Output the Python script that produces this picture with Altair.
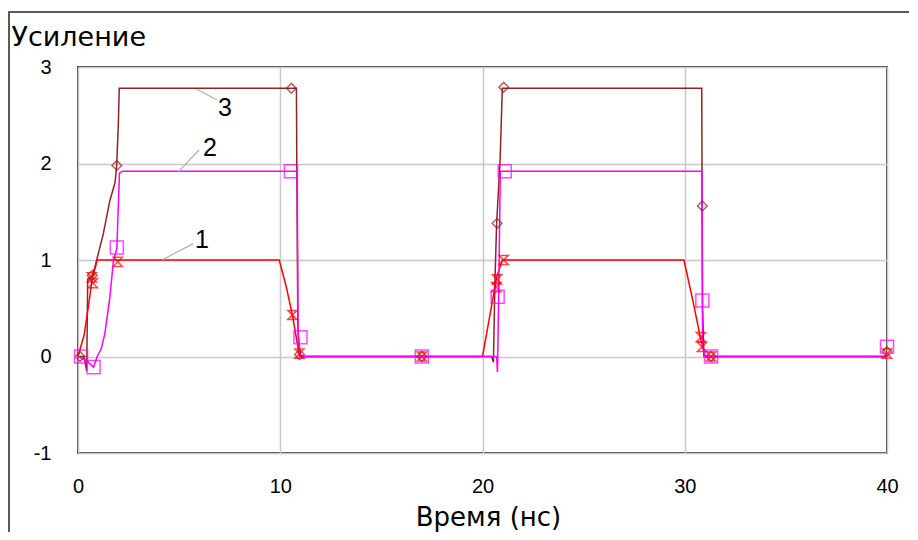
import altair as alt
import pandas as pd

# ---- curve data (time in ns, gain) ----
c1_t = [0, 0.3, 0.5, 0.7, 0.8, 0.95, 1.1, 9.95, 10.3, 10.6, 10.93, 11.1, 20.0, 20.3, 20.7, 20.98, 21.1, 29.96, 30.4, 30.8, 31.0, 31.3, 40]
c1_y = [0, 0.22, 0.5, 0.8, 0.88, 1.0, 1.0, 1.0, 0.72, 0.43, 0.03, 0.0, 0.0, 0.35, 0.82, 1.0, 1.0, 1.0, 0.58, 0.17, 0.0, 0.0, 0.0]

c2_t = [0, 0.4, 0.77, 0.95, 1.15, 1.33, 1.58, 1.75, 1.92, 2.05, 2.2, 10.84, 10.88, 11.0, 11.2, 20.7, 20.74, 20.8, 20.88, 21.1, 30.85, 30.88, 31.0, 40]
c2_y = [0, -0.04, -0.11, 0.0, 0.08, 0.24, 0.62, 0.99, 1.12, 1.9, 1.92, 1.92, 0.25, 0.0, 0.0, 0.0, -0.16, 0.62, 1.92, 1.92, 1.92, 0.1, 0.0, 0.0]

c3_t = [0, 0.3, 0.43, 0.48, 0.7, 0.84, 1.25, 1.58, 1.83, 1.91, 1.99, 2.04, 2.2, 10.8, 10.82, 10.87, 10.95, 11.2, 20.45, 20.54, 20.62, 20.7, 20.87, 20.98, 21.1, 30.84, 30.86, 30.88, 30.95, 31.3, 40]
c3_y = [0, 0.0, -0.15, 0.8, 0.84, 0.93, 1.27, 1.62, 1.8, 1.97, 2.38, 2.78, 2.78, 2.78, 1.92, 0.3, 0.0, 0.0, 0.0, -0.06, 0.82, 1.38, 2.03, 2.78, 2.78, 2.78, 1.56, 0.5, 0.0, 0.0, 0.0]

# ---- marker positions ----
m1_t = [0.68, 0.74, 1.97, 10.6, 10.95, 17.0, 20.68, 20.72, 21.05, 30.8, 30.85, 31.3, 40]
m1_y = [0.82, 0.76, 0.98, 0.43, 0.03, 0.0, 0.72, 0.8, 1.0, 0.2, 0.1, 0.0, 0.03]

m2_t = [0.15, 0.77, 1.92, 10.53, 11.0, 17.0, 20.75, 21.1, 30.87, 31.3, 40]
m2_y = [0.0, -0.11, 1.13, 1.92, 0.2, 0.0, 0.62, 1.92, 0.58, 0.0, 0.1]

m3_t = [0.1, 0.7, 1.92, 10.55, 10.95, 17.0, 20.72, 21.05, 30.87, 31.3, 40]
m3_y = [0.0, 0.84, 1.98, 2.78, 0.02, 0.0, 1.38, 2.79, 1.56, 0.0, 0.05]

# ---- curve labels with leader lines ----
lab_text = ["1", "2", "3"]
lab_t = [6.13, 6.53, 7.27]
lab_y = [1.21, 2.16, 2.58]
lead_t1 = [4.15, 4.95, 5.87]
lead_y1 = [1.0, 1.91, 2.77]
lead_t2 = [5.69, 5.98, 6.86]
lead_y2 = [1.17, 2.14, 2.66]

x_ticks = [0, 10, 20, 30, 40]
y_ticks = [-1, 0, 1, 2, 3]

RED = "#ff0000"
MAG = "#ff00ff"
BRN = "#8e2424"

def line_df(t, y):
    return pd.DataFrame({"t": t, "g": y, "i": list(range(len(t)))})

xs = alt.Scale(domain=[0, 40], nice=False, zero=False)
ys = alt.Scale(domain=[-1, 3], nice=False, zero=False)

X = alt.X("t:Q", scale=xs, axis=alt.Axis(
    values=x_ticks, title="Время (нс)", titleX=410, titleY=72,
    titleAlign="center", titleBaseline="alphabetic", titleFont="DejaVu Sans",
    titleFontSize=26, titleFontWeight="normal", titleColor="black",
    labelPadding=23, labelFlush=False, grid=True, labelExpr="datum.value + ''"))
Y = alt.Y("g:Q", scale=ys, axis=alt.Axis(
    values=y_ticks, title="Усиление", titleAngle=0, titleX=-67, titleY=-22,
    titleAlign="left", titleBaseline="alphabetic", titleFont="DejaVu Sans",
    titleFontSize=27, titleFontWeight="normal", titleColor="black",
    labelPadding=27, labelFlush=False, grid=True, labelExpr="datum.value + ''"))

def curve(t, y, color):
    return alt.Chart(line_df(t, y)).mark_line(color=color, strokeWidth=1.5).encode(
        x=X, y=Y, order="i:Q")

hourglass = "M-1,-1L1,-1L-1,1L1,1Z"

def markers(t, y, color, shape, size):
    return alt.Chart(pd.DataFrame({"t": t, "g": y})).mark_point(
        shape=shape, size=size, color=color, filled=False, strokeWidth=1.5).encode(x=X, y=Y)

leaders = alt.Chart(pd.DataFrame({"t": lead_t1, "g": lead_y1, "t2": lead_t2, "g2": lead_y2})).mark_rule(
    color="#b0b0b0", strokeWidth=1.2).encode(x=X, y=Y, x2="t2:Q", y2="g2:Q")

labels = alt.Chart(pd.DataFrame({"t": lab_t, "g": lab_y, "s": lab_text})).mark_text(
    font="Liberation Sans", fontSize=25, color="black", baseline="middle", align="center").encode(
    x=X, y=Y, text="s:N")

frame = alt.Chart(pd.DataFrame({"t": [0]})).mark_rect(
    fill=None, stroke="#5a5a5a", strokeWidth=2, clip=False).encode(
    x=alt.value(-69), x2=alt.value(900), y=alt.value(-55), y2=alt.value(560))

chart = alt.layer(
    frame,
    curve(c3_t, c3_y, BRN),
    curve(c1_t, c1_y, RED),
    curve(c2_t, c2_y, MAG),
    markers(m3_t, m3_y, BRN, "diamond", 95),
    markers(m1_t, m1_y, RED, hourglass, 85),
    markers(m2_t, m2_y, MAG, "square", 170),
    leaders,
    labels,
).properties(
    width=809, height=386,
    autosize=alt.AutoSizeParams(type="none"),
    padding={"left": 70, "top": 59, "right": 22, "bottom": 79},
    background="white",
).configure_view(
    stroke="#404040", strokeWidth=2
).configure_axis(
    domain=False, ticks=False, gridColor="#c8c8c8", gridWidth=1.5,
    labelFont="Liberation Sans", labelFontSize=20, labelColor="black",
)

chart.save("out.html", embed_options={"renderer": "svg", "actions": False})
